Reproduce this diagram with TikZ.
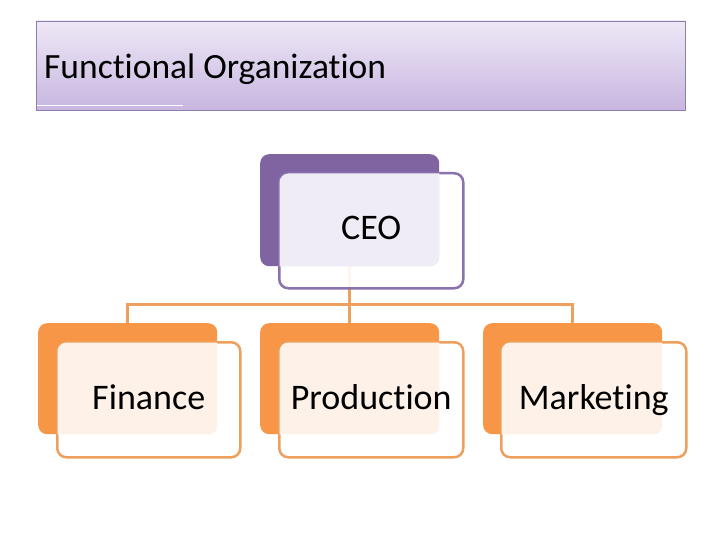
\documentclass[tikz,border=0pt]{standalone}
\usepackage{fontspec}
\setmainfont[Ligatures=NoCommon]{Carlito}
\definecolor{purp}{HTML}{8064A2}
\definecolor{purpline}{HTML}{8A72AC}
\definecolor{lav}{HTML}{F0ECF6}
\definecolor{orng}{HTML}{F79646}
\definecolor{orline}{HTML}{EDA05E}
\definecolor{peach}{HTML}{FDF1E8}
\definecolor{ttop}{HTML}{EEE8F6}
\definecolor{tbot}{HTML}{C8B6E0}
\definecolor{tborder}{HTML}{8F7DAA}
\begin{document}
\begin{tikzpicture}[x=1pt,y=-1pt,
  backbox/.style={rounded corners=9pt,inner sep=0pt,anchor=north west},
  frontbox/.style={rounded corners=9pt,inner sep=0pt,anchor=north west,line width=2.5pt},
  conn/.style={draw=orline,line width=3pt},
  lbl/.style={font=\fontsize{36}{40}\selectfont,text=black,anchor=base,inner sep=0pt}]
\useasboundingbox (0,0) rectangle (720,540);
% title
\shade[top color=ttop,bottom color=tbot,draw=tborder,line width=0.8pt] (36,21) rectangle (685,110);
\draw[white,line width=1pt] (37,106) -- (183,106);
\node[anchor=base west,inner sep=0pt,font=\fontsize{35.5}{40}\selectfont] (title) at (44,79) {Functional Organization};
% back boxes
\node[backbox,fill=purp,minimum width=179pt,minimum height=112pt] (ceoB) at (260,154) {};
\node[backbox,fill=orng,minimum width=179pt,minimum height=111pt] (finB) at (38,323) {};
\node[backbox,fill=orng,minimum width=179pt,minimum height=111pt] (proB) at (260,323) {};
\node[backbox,fill=orng,minimum width=179pt,minimum height=111pt] (mktB) at (483,323) {};
% connectors
\coordinate (bus) at (ceoB.south |- 0,304);
\draw[conn] (ceoB.south) -- (bus);
\draw[conn] (bus) -| (finB.north);
\draw[conn] (bus) -- (proB.north);
\draw[conn] (bus) -| (mktB.north);
% front boxes
\node[frontbox,draw=purpline,fill=white,fill opacity=0.9,minimum width=184pt,minimum height=115pt] (ceoF) at (278,172) {};
\node[frontbox,draw=orline,fill=white,minimum width=183pt,minimum height=115pt] (finF) at (56,341) {};
\node[frontbox,draw=orline,fill=white,minimum width=184pt,minimum height=115pt] (proF) at (278,341) {};
\node[frontbox,draw=orline,fill=white,minimum width=185pt,minimum height=115pt] (mktF) at (500,341) {};
% overlaps
\begin{scope}
\clip[rounded corners=9pt] (ceoB.north west) rectangle (ceoB.south east);
\fill[lav,rounded corners=9pt] ([shift={(1.5,1.5)}]ceoF.north west) rectangle (ceoF.south east);
\end{scope}
\begin{scope}
\clip[rounded corners=9pt] (finB.north west) rectangle (finB.south east);
\fill[peach,rounded corners=9pt] ([shift={(1.5,1.5)}]finF.north west) rectangle (finF.south east);
\end{scope}
\begin{scope}
\clip[rounded corners=9pt] (proB.north west) rectangle (proB.south east);
\fill[peach,rounded corners=9pt] ([shift={(1.5,1.5)}]proF.north west) rectangle (proF.south east);
\end{scope}
\begin{scope}
\clip[rounded corners=9pt] (mktB.north west) rectangle (mktB.south east);
\fill[peach,rounded corners=9pt] ([shift={(1.5,1.5)}]mktF.north west) rectangle (mktF.south east);
\end{scope}
% labels
\node[lbl] (ceoT) at (ceoF.center |- 0,240) {CEO};
\node[lbl] (finT) at (finF.center |- 0,409) {Finance};
\node[lbl] (proT) at (proF.center |- 0,409) {Production};
\node[lbl] (mktT) at (mktF.center |- 0,409) {Marketing};
\end{tikzpicture}
\end{document}
